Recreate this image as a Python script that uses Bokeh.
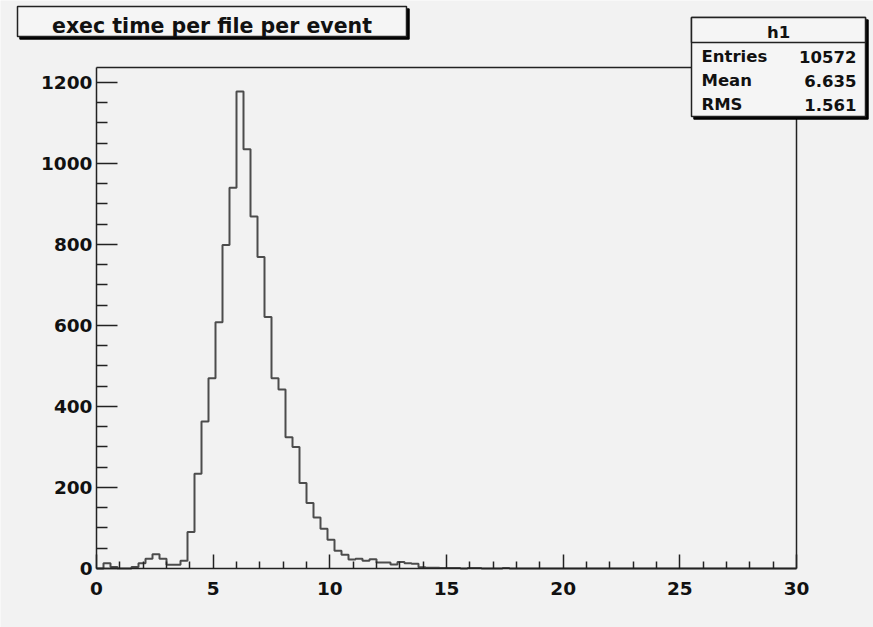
from bokeh.plotting import figure
from bokeh.models import Range1d, FixedTicker, BoxAnnotation, Label
from bokeh.embed import file_html
from bokeh.resources import INLINE

# ---------------- data ----------------
title_text = "exec time per file per event"
hist_name = "h1"
stat_names = ["Entries", "Mean", "RMS"]
stat_values = ["10572", "6.635", "1.561"]

bin_low = 0.0
bin_width = 0.3
counts = [
    0, 13, 4, 0, 0, 4, 13, 24, 35, 24,            # 0.0 - 3.0
    9, 9, 19, 90, 234, 363, 470, 608, 799, 940,   # 3.0 - 6.0
    1178, 1035, 869, 769, 621, 470, 442, 324, 300, 211,  # 6.0 - 9.0
    162, 126, 98, 71, 44, 34, 22, 24, 19, 23,     # 9.0 - 12.0
    15, 15, 10, 16, 13, 12, 3, 2, 2, 1,           # 12.0 - 15.0
    1, 1, 0, 1, 1, 0, 0, 0, 1, 0,                 # 15.0 - 18.0
    0, 0, 0, 0, 0, 0, 0, 0, 0, 0,                 # 18.0 - 21.0
    0, 0, 0, 0, 0, 0, 0, 0, 0, 0,                 # 21.0 - 24.0
    0, 0, 0, 0, 0, 0, 0, 0, 0, 0,                 # 24.0 - 27.0
    0, 0, 0, 0, 0, 0, 0, 0, 0, 0,                 # 27.0 - 30.0
]
x_ticks = [0, 5, 10, 15, 20, 25, 30]
x_minor = [v for v in range(1, 30) if v % 5 != 0]
y_ticks = [0, 200, 400, 600, 800, 1000, 1200]
y_minor = [v for v in range(50, 1237, 50) if v % 200 != 0]
x_max = 30
y_max = 1237

# ---------------- layout / styles ----------------
W, H = 873, 627
FL, FR, FT, FB = 96, 796, 67, 568        # visible plot box in canvas pixels
BG = "#f2f2f2"
BOXBG = "#f5f5f5"
INK = "#222222"
HIST = "#4c4c4c"
TXT = "#111111"
FONT = "DejaVu Sans"
TEXT_SHIFT = 5   # Bokeh draws alphabetic-baseline labels slightly low

# the Bokeh frame spans the whole canvas so the boxes are not clipped
xs = (x_max - bin_low) / (FR - FL)
ys = y_max / (FB - FT)
x_range = Range1d(bin_low - FL * xs, x_max + (W - FR) * xs)
y_range = Range1d(-(H - FB) * ys, y_max + FT * ys)

edges = [bin_low + i * bin_width for i in range(len(counts) + 1)]
step_y = counts + [counts[-1]]

p = figure(width=W, height=H, output_backend="svg", toolbar_location=None,
           x_range=x_range, y_range=y_range, min_border=0)
p.background_fill_color = BG
p.border_fill_color = BG
p.outline_line_color = None
p.grid.visible = False

# top and right edges of the plot box
p.line([bin_low, x_max, x_max], [y_max, y_max, 0], line_color=INK, line_width=1.5)
p.step(edges, step_y, mode="after", line_color=HIST, line_width=2)

for ax in (p.xaxis[0], p.yaxis[0]):
    ax.fixed_location = 0
    ax.axis_line_color = INK
    ax.axis_line_width = 1.5
    ax.major_tick_line_color = INK
    ax.minor_tick_line_color = INK
    ax.major_tick_line_width = 1.5
    ax.minor_tick_line_width = 1.5
    ax.major_tick_out = 0
    ax.minor_tick_out = 0
    ax.major_label_text_font = FONT
    ax.major_label_text_font_style = "bold"
    ax.major_label_text_font_size = "18.5px"
    ax.major_label_text_color = TXT

p.xaxis.bounds = (bin_low, x_max)
p.yaxis.bounds = (0, y_max)
p.xaxis.ticker = FixedTicker(ticks=x_ticks, minor_ticks=x_minor)
p.yaxis.ticker = FixedTicker(ticks=y_ticks, minor_ticks=y_minor)
p.xaxis.major_tick_in = 14
p.xaxis.minor_tick_in = 7
p.yaxis.major_tick_in = 21
p.yaxis.minor_tick_in = 11
p.xaxis.major_label_standoff = 13
p.yaxis.major_label_standoff = 4

def box(l, t, r, b, fill, line=None, lw=1.5):
    p.add_layout(BoxAnnotation(left=l, right=r, top=H - t, bottom=H - b,
                               left_units="screen", right_units="screen",
                               top_units="screen", bottom_units="screen",
                               fill_color=fill, fill_alpha=1.0,
                               line_color=line if line else fill, line_width=lw,
                               line_alpha=1.0))

def text(x, y, s, align, size):
    p.add_layout(Label(x=x, y=H - y + TEXT_SHIFT, x_units="screen", y_units="screen",
                       text=s, text_align=align, text_baseline="alphabetic",
                       text_font=FONT, text_font_style="bold",
                       text_font_size=size, text_color=TXT))

# title box with shadow
TL, TR, TT, TB = 17, 406, 6, 36
box(TL + 2.5, TT + 2.5, TR + 2.5, TB + 2.5, "#000000")
box(TL, TT, TR, TB, BOXBG, INK)
text((TL + TR) / 2, 30, title_text, "center", "20.5px")

# statistics box with shadow
SL, SR, ST, SB, SH = 691, 865, 17, 116, 42
box(SL + 2.5, ST + 2.5, SR + 2.5, SB + 2.5, "#000000")
box(SL, ST, SR, SB, BOXBG, INK)
box(SL, ST, SR, SH, BOXBG, INK)
text((SL + SR) / 2, 37, hist_name, "center", "16.5px")
row_base = [61, 85, 109]
for name, val, rb in zip(stat_names, stat_values, row_base):
    text(SL + 10, rb, name, "left", "16.5px")
    text(SR - 9, rb, val, "right", "16.5px")

open("out.html", "w").write(file_html(p, INLINE))
